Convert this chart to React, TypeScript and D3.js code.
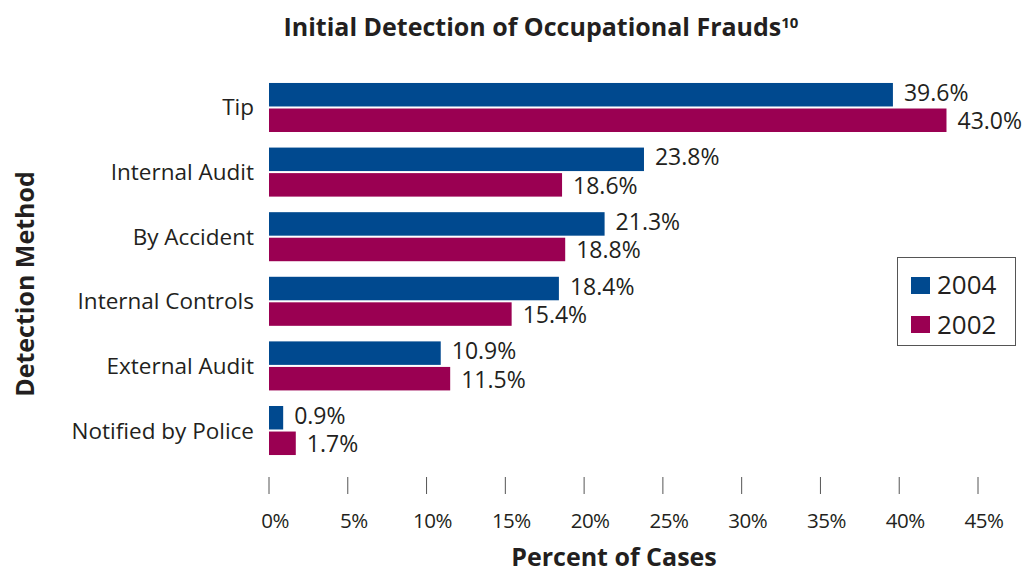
import React from "react";
import * as d3 from "d3";

const categories = ["Tip", "Internal Audit", "By Accident", "Internal Controls", "External Audit", "Notified by Police"];
const series = ["2004", "2002"];
const values2004 = [39.6, 23.8, 21.3, 18.4, 10.9, 0.9];
const values2002 = [43.0, 18.6, 18.8, 15.4, 11.5, 1.7];
const tickValues = [0, 5, 10, 15, 20, 25, 30, 35, 40, 45];
const colors = ["#00498f", "#9a0052"];

const W = 1031;
const H = 573;
const FONT = "'Open Sans', Lato, sans-serif";
const TEXT = "#231f20";

export default function App() {
  const x = d3.scaleLinear().domain([0, 45]).range([269, 978]);
  const y = d3.scaleBand<string>().domain(categories).range([67.4, 470.6]).paddingInner(0.241).paddingOuter(0.241);
  const yi = d3.scaleBand<string>().domain(series).range([0, y.bandwidth()]).paddingInner(0.08).paddingOuter(0);
  const seriesValues = [values2004, values2002];
  const fmt = (v: number) => v.toFixed(1) + "%";

  return (
    <svg width={W} height={H} style={{ display: "block", position: "absolute", left: 0, top: 0 }} fontFamily={FONT}>
      <rect width={W} height={H} fill="#fff" />
      <text x={541} y={36} textAnchor="middle" fontSize={25} fontWeight={700} fill={TEXT}>
        Initial Detection of Occupational Frauds
        <tspan fontSize={15} dy={-8}>10</tspan>
      </text>
      {categories.map((c, i) => (
        <g key={c}>
          <text x={254} y={(y(c) as number) + y.bandwidth() / 2 + 8} textAnchor="end" fontSize={22.5} fill={TEXT}>
            {c}
          </text>
          {series.map((s, j) => {
            const v = seriesValues[j][i];
            const by = (y(c) as number) + (yi(s) as number);
            return (
              <g key={s}>
                <rect x={x(0)} y={by} width={x(v) - x(0)} height={yi.bandwidth()} fill={colors[j]} />
                <text x={x(v) + 11} y={by + yi.bandwidth() / 2 + (j === 0 ? 6 : 9)} fontSize={23} fill={TEXT}>
                  {fmt(v)}
                </text>
              </g>
            );
          })}
        </g>
      ))}
      {tickValues.map((t) => (
        <g key={t}>
          <line x1={x(t)} x2={x(t)} y1={477} y2={494} stroke="#555" strokeWidth={1} />
          <text x={x(t) + 6} y={528} textAnchor="middle" fontSize={20.5} fill={TEXT} letterSpacing={-0.5}>
            {t}%
          </text>
        </g>
      ))}
      <text x={614} y={566} textAnchor="middle" fontSize={25} fontWeight={700} fill={TEXT}>
        Percent of Cases
      </text>
      <text transform="translate(34,284) rotate(-90)" textAnchor="middle" fontSize={25} fontWeight={700} fill={TEXT}>
        Detection Method
      </text>
      <rect x={897.5} y={257.5} width={118} height={88} fill="#fff" stroke="#555" strokeWidth={1} />
      {series.map((s, j) => (
        <g key={s}>
          <rect x={911} y={277 + j * 39} width={19} height={17} fill={colors[j]} />
          <text x={937} y={294 + j * 40} fontSize={26} fill={TEXT}>
            {s}
          </text>
        </g>
      ))}
    </svg>
  );
}
